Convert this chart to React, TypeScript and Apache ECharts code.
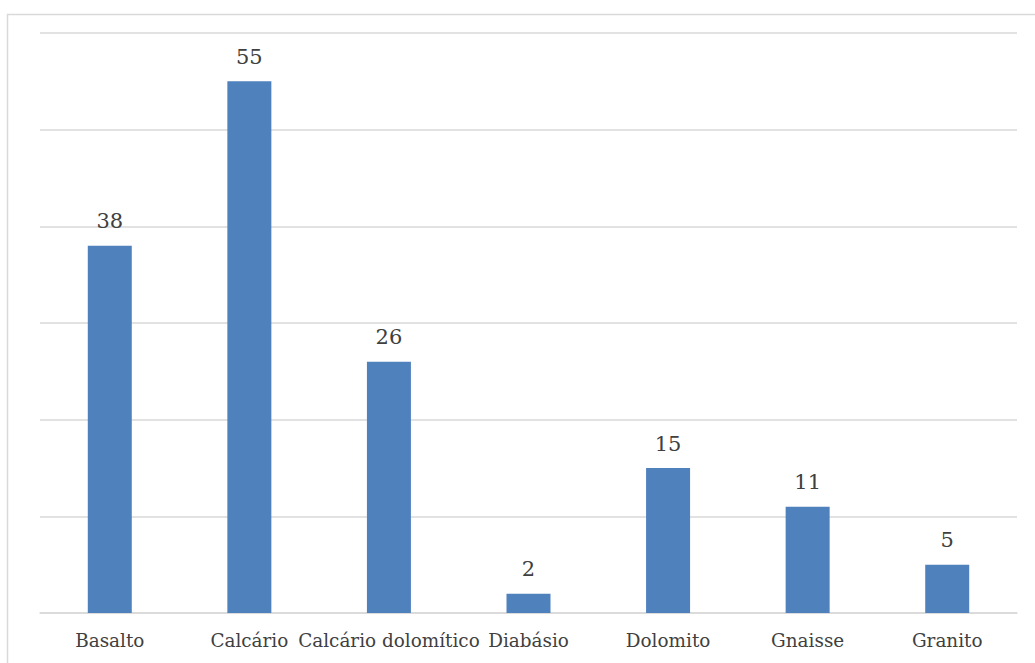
import React, { useEffect, useRef } from "react";
import * as echarts from "echarts";

const categories = ["Basalto", "Calcário", "Calcário dolomítico", "Diabásio", "Dolomito", "Gnaisse", "Granito"];
const values = [38, 55, 26, 2, 15, 11, 5];
const yMin = 0;
const yMax = 60;
const yInterval = 10;

export default function App() {
  const ref = useRef<HTMLDivElement>(null);
  useEffect(() => {
    if (!ref.current) return;
    const chart = echarts.init(ref.current, null, { renderer: "svg" });
    chart.setOption({
      animation: false,
      backgroundColor: "#ffffff",
      textStyle: { fontFamily: "DejaVu Serif" },
      graphic: [
        {
          type: "rect",
          shape: { x: 7.5, y: 14.5, width: 1100, height: 700 },
          style: { fill: "none", stroke: "#d9d9d9", lineWidth: 1.5 },
          silent: true,
          z: -1,
        },
      ],
      grid: { left: 40, right: 18, top: 33, bottom: 50, containLabel: false },
      xAxis: {
        type: "category",
        data: categories,
        axisLine: { show: true, lineStyle: { color: "#d9d9d9", width: 1.5 } },
        axisTick: { show: false },
        axisLabel: {
          color: "#404040",
          fontSize: 18.4,
          fontFamily: "DejaVu Serif",
          margin: 18,
          interval: 0,
        },
      },
      yAxis: {
        type: "value",
        min: yMin,
        max: yMax,
        interval: yInterval,
        axisLine: { show: false },
        axisTick: { show: false },
        axisLabel: { show: false },
        splitLine: { show: true, lineStyle: { color: "#d9d9d9", width: 1.5 } },
      },
      series: [
        {
          type: "bar",
          data: values,
          barWidth: 44,
          itemStyle: { color: "#4f81bd" },
          label: {
            show: true,
            position: "top",
            distance: 14,
            color: "#404040",
            fontSize: 21,
            fontFamily: "DejaVu Serif",
          },
        },
      ],
    });
    return () => chart.dispose();
  }, []);
  return (
    <div
      ref={ref}
      style={{ position: "fixed", left: 0, top: 0, width: 1035, height: 663 }}
    />
  );
}
